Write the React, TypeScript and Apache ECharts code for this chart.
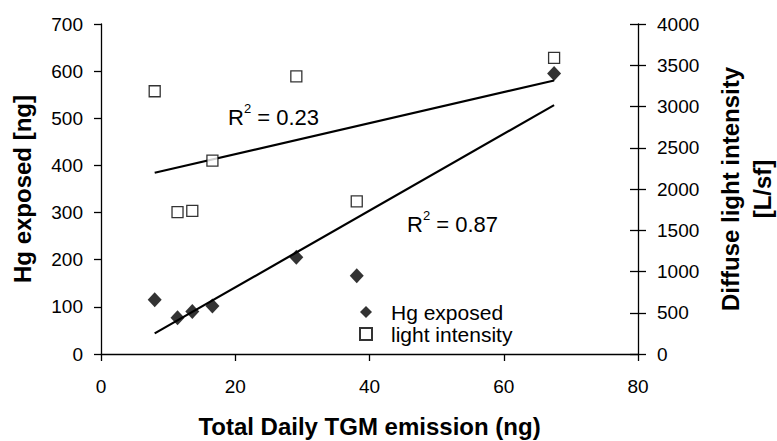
import React, { useEffect, useRef } from "react";
import * as echarts from "echarts";

// Total daily TGM emission (ng) for each sample
const tgmEmission = [8.0, 11.4, 13.6, 16.6, 29.1, 38.1, 67.5];
// Hg exposed [ng] (left axis)
const hgExposed = [115, 77, 90, 102, 205, 166, 595];
// Diffuse light intensity [L/sf] (right axis)
const lightIntensity = [3185, 1720, 1735, 2345, 3365, 1850, 3590];

const xTicks = { min: 0, max: 80, interval: 20 };
const leftTicks = { min: 0, max: 700, interval: 100 };
const rightTicks = { min: 0, max: 4000, interval: 500 };

const r2Hg = "0.87";
const r2Light = "0.23";

function linearFit(xs: number[], ys: number[]): number[][] {
  const n = xs.length;
  const mx = xs.reduce((a, b) => a + b, 0) / n;
  const my = ys.reduce((a, b) => a + b, 0) / n;
  let sxy = 0;
  let sxx = 0;
  for (let i = 0; i < n; i++) {
    sxy += (xs[i] - mx) * (ys[i] - my);
    sxx += (xs[i] - mx) * (xs[i] - mx);
  }
  const slope = sxy / sxx;
  const icpt = my - slope * mx;
  const x0 = Math.min(...xs);
  const x1 = Math.max(...xs);
  return [
    [x0, icpt + slope * x0],
    [x1, icpt + slope * x1],
  ];
}

const FONT = "'Liberation Sans', Arial, sans-serif";

export default function App() {
  const ref = useRef<HTMLDivElement>(null);
  useEffect(() => {
    if (!ref.current) return;
    const chart = echarts.init(ref.current, undefined, { renderer: "svg" });
    const hgPts = tgmEmission.map((x, i) => [x, hgExposed[i]]);
    const lightPts = tgmEmission.map((x, i) => [x, lightIntensity[i]]);
    const axisLine = { show: true, lineStyle: { color: "#000", width: 1.3 } };
    const labelStyle = { color: "#000", fontSize: 19, fontFamily: FONT };
    const nameStyle = {
      color: "#000",
      fontSize: 24,
      fontWeight: "bold" as const,
      fontFamily: FONT,
    };
    const rich = {
      n: { fontSize: 22, fontFamily: FONT, fill: "#000", lineHeight: 26, verticalAlign: "bottom" },
      s: { fontSize: 13, fontFamily: FONT, fill: "#000", lineHeight: 26, verticalAlign: "top", padding: [0, 0, 10, 0] },
    };
    chart.setOption({
      animation: false,
      backgroundColor: "#fff",
      textStyle: { fontFamily: FONT },
      grid: {
        left: 101,
        right: 139,
        top: 24,
        bottom: 87,
        containLabel: false,
        outerBoundsMode: "none",
      },
      xAxis: {
        type: "value",
        ...xTicks,
        axisLine,
        axisTick: { show: true, inside: false, length: 7, lineStyle: { color: "#000", width: 1.3 } },
        axisLabel: { ...labelStyle, margin: 23 },
        splitLine: { show: false },
        name: "Total Daily TGM emission (ng)",
        nameLocation: "middle",
        nameGap: 60,
        nameTextStyle: nameStyle,
      },
      yAxis: [
        {
          type: "value",
          position: "left",
          ...leftTicks,
          axisLine,
          axisTick: { show: true, inside: false, length: 7, lineStyle: { color: "#000", width: 1.3 } },
          axisLabel: { ...labelStyle, margin: 18 },
          splitLine: { show: false },
          name: "Hg exposed [ng]",
          nameLocation: "middle",
          nameGap: 67,
          nameTextStyle: nameStyle,
        },
        {
          type: "value",
          position: "right",
          ...rightTicks,
          axisLine,
          axisTick: { show: true, inside: false, length: 8, lineStyle: { color: "#000", width: 1.3 } },
          axisLabel: { ...labelStyle, margin: 19, formatter: (v: number) => String(v) },
          splitLine: { show: false },
          name: "Diffuse light intensity\n[L/sf]",
          nameLocation: "middle",
          nameGap: 76,
          nameTextStyle: { ...nameStyle, lineHeight: 32 },
        },
        {
          type: "value",
          position: "right",
          ...rightTicks,
          axisLine: { show: false },
          axisTick: { show: true, inside: true, length: 8, lineStyle: { color: "#000", width: 1.3 } },
          axisLabel: { show: false },
          splitLine: { show: false },
        },
      ],
      legend: {
        data: ["Hg exposed", "light intensity"],
        orient: "vertical",
        left: 359,
        top: 301,
        itemGap: 0,
        itemWidth: 12,
        itemHeight: 12,
        padding: 0,
        textStyle: {
          color: "#000",
          fontSize: 21,
          fontFamily: FONT,
          lineHeight: 22,
          padding: [0, 0, 0, 14],
        },
      },
      series: [
        {
          name: "Hg exposed",
          type: "scatter",
          yAxisIndex: 0,
          data: hgPts,
          symbol: "diamond",
          symbolSize: [14, 15],
          itemStyle: { color: "#000" },
          z: 5,
        },
        {
          name: "light intensity",
          type: "scatter",
          yAxisIndex: 1,
          data: lightPts,
          symbol: "rect",
          symbolSize: 11,
          itemStyle: { color: "#fff", borderColor: "#000", borderWidth: 1.3 },
          z: 5,
        },
        {
          name: "Hg trend",
          type: "line",
          yAxisIndex: 0,
          data: linearFit(tgmEmission, hgExposed),
          showSymbol: false,
          symbol: "none",
          lineStyle: { color: "#000", width: 2.2 },
          z: 3,
        },
        {
          name: "light trend",
          type: "line",
          yAxisIndex: 1,
          data: linearFit(tgmEmission, lightIntensity),
          showSymbol: false,
          symbol: "none",
          lineStyle: { color: "#000", width: 2.2 },
          z: 3,
        },
      ],
      graphic: [
        {
          type: "text",
          left: 228,
          top: 102,
          style: { text: "{n|R}{s|2}{n| = " + r2Light + "}", rich },
        },
        {
          type: "text",
          left: 407,
          top: 209,
          style: { text: "{n|R}{s|2}{n| = " + r2Hg + "}", rich },
        },
      ],
    });
    return () => chart.dispose();
  }, []);
  return (
    <div
      ref={ref}
      style={{ position: "fixed", left: 0, top: 0, width: 777, height: 441, background: "#fff" }}
    />
  );
}
